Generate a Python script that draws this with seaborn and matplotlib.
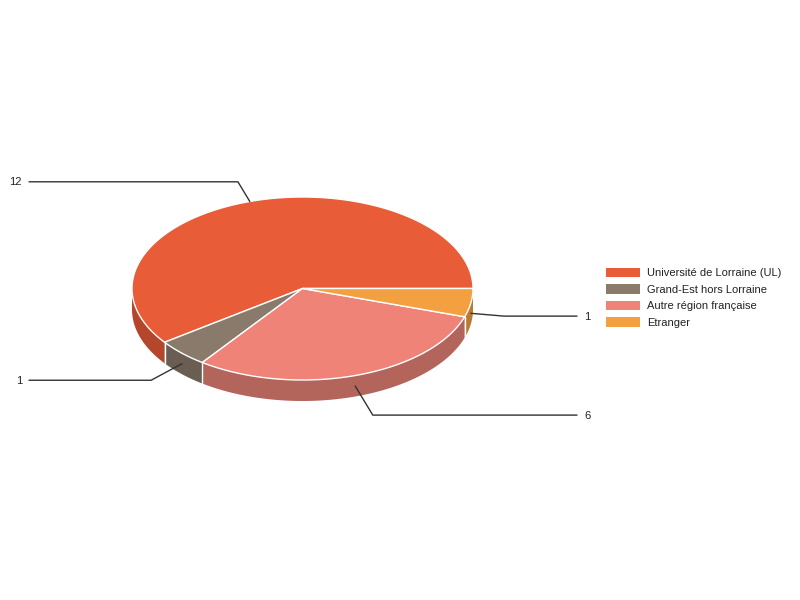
import numpy as np
import matplotlib
matplotlib.use("Agg")
import matplotlib.pyplot as plt
import seaborn as sns
from matplotlib.patches import Polygon, Patch

# ---- data ----
categories = ["Université de Lorraine (UL)", "Grand-Est hors Lorraine",
              "Autre région française", "Etranger"]
values = [12, 1, 6, 1]
value_labels = ["12", "1", "6", "1"]

# ---- style ----
top_colors = ["#e85c38", "#8a7a6c", "#ef8377", "#f3a040"]
side_colors = ["#b4472b", "#6a5d51", "#b3645b", "#bb7a31"]
leader_len = [23, 35, 34, 33]

sns.set_theme(style="white")
plt.rcParams["font.family"] = ["Liberation Sans", "DejaVu Sans"]

fig = plt.figure(figsize=(8, 6), dpi=100)
ax = fig.add_axes([0, 0, 1, 1])
ax.set_xlim(0, 800)
ax.set_ylim(600, 0)
ax.axis("off")

cx, cy, rx, ry, depth = 302.5, 288.5, 170.5, 91.5, 21

vals = np.array(values, dtype=float)
fr = vals / vals.sum()
ends = np.cumsum(fr) * 360.0
starts = ends - fr * 360.0


def pt(t):
    r = np.radians(t)
    return cx + rx * np.cos(r), cy - ry * np.sin(r)


# side walls (front half only)
for s, e, sc in zip(starts, ends, side_colors):
    a, b = max(s, 180.0), min(e, 360.0)
    if a < b:
        t = np.linspace(a, b, 120)
        x, y = pt(t)
        xs = np.concatenate([x, x[::-1]])
        ys = np.concatenate([y, (y + depth)[::-1]])
        ax.add_patch(Polygon(np.column_stack([xs, ys]), closed=True,
                             facecolor=sc, edgecolor="none", zorder=1))
# wall boundaries
for s in starts:
    if 180.0 < s < 360.0:
        x, y = pt(s)
        ax.plot([x, x], [y, y + depth], color="white", lw=1, zorder=2)

# top faces
for s, e, tc in zip(starts, ends, top_colors):
    t = np.linspace(s, e, 200)
    x, y = pt(t)
    xs = np.concatenate([[cx], x])
    ys = np.concatenate([[cy], y])
    ax.add_patch(Polygon(np.column_stack([xs, ys]), closed=True,
                         facecolor=tc, edgecolor="white", lw=1, zorder=3,
                         joinstyle="round"))

# leader lines + value labels
for s, e, lab, L in zip(starts, ends, value_labels, leader_len):
    m = np.radians((s + e) / 2)
    ax_, ay_ = pt(np.degrees(m))
    if np.sin(m) < 0:
        ay_ += depth / 2
    d = np.array([rx * np.cos(m), -ry * np.sin(m)])
    d = d / np.linalg.norm(d)
    ex, ey = ax_ + L * d[0], ay_ + L * d[1]
    if np.cos(m) < 0:
        hx, tx, ha = 29, 22, "right"
    else:
        hx, tx, ha = 577, 584, "left"
    ax.plot([ax_, ex, hx], [ay_, ey, ey], color="#333333", lw=1,
            zorder=4, solid_joinstyle="miter")
    ax.text(tx, ey + 0.5, lab, ha=ha, va="center", fontsize=8, color="#222222")

# legend
handles = [Patch(facecolor=c, edgecolor="none") for c in top_colors]
ax.legend(handles, categories, loc="upper left",
          bbox_to_anchor=(606 / 800, 1 - 268 / 600),
          bbox_transform=fig.transFigure,
          frameon=False, fontsize=8, borderpad=0, borderaxespad=0,
          handlelength=3.06, handleheight=0.9, handletextpad=0.63,
          labelspacing=0.54, labelcolor="#222222")

fig.savefig("out.png", dpi=100, facecolor="white")
